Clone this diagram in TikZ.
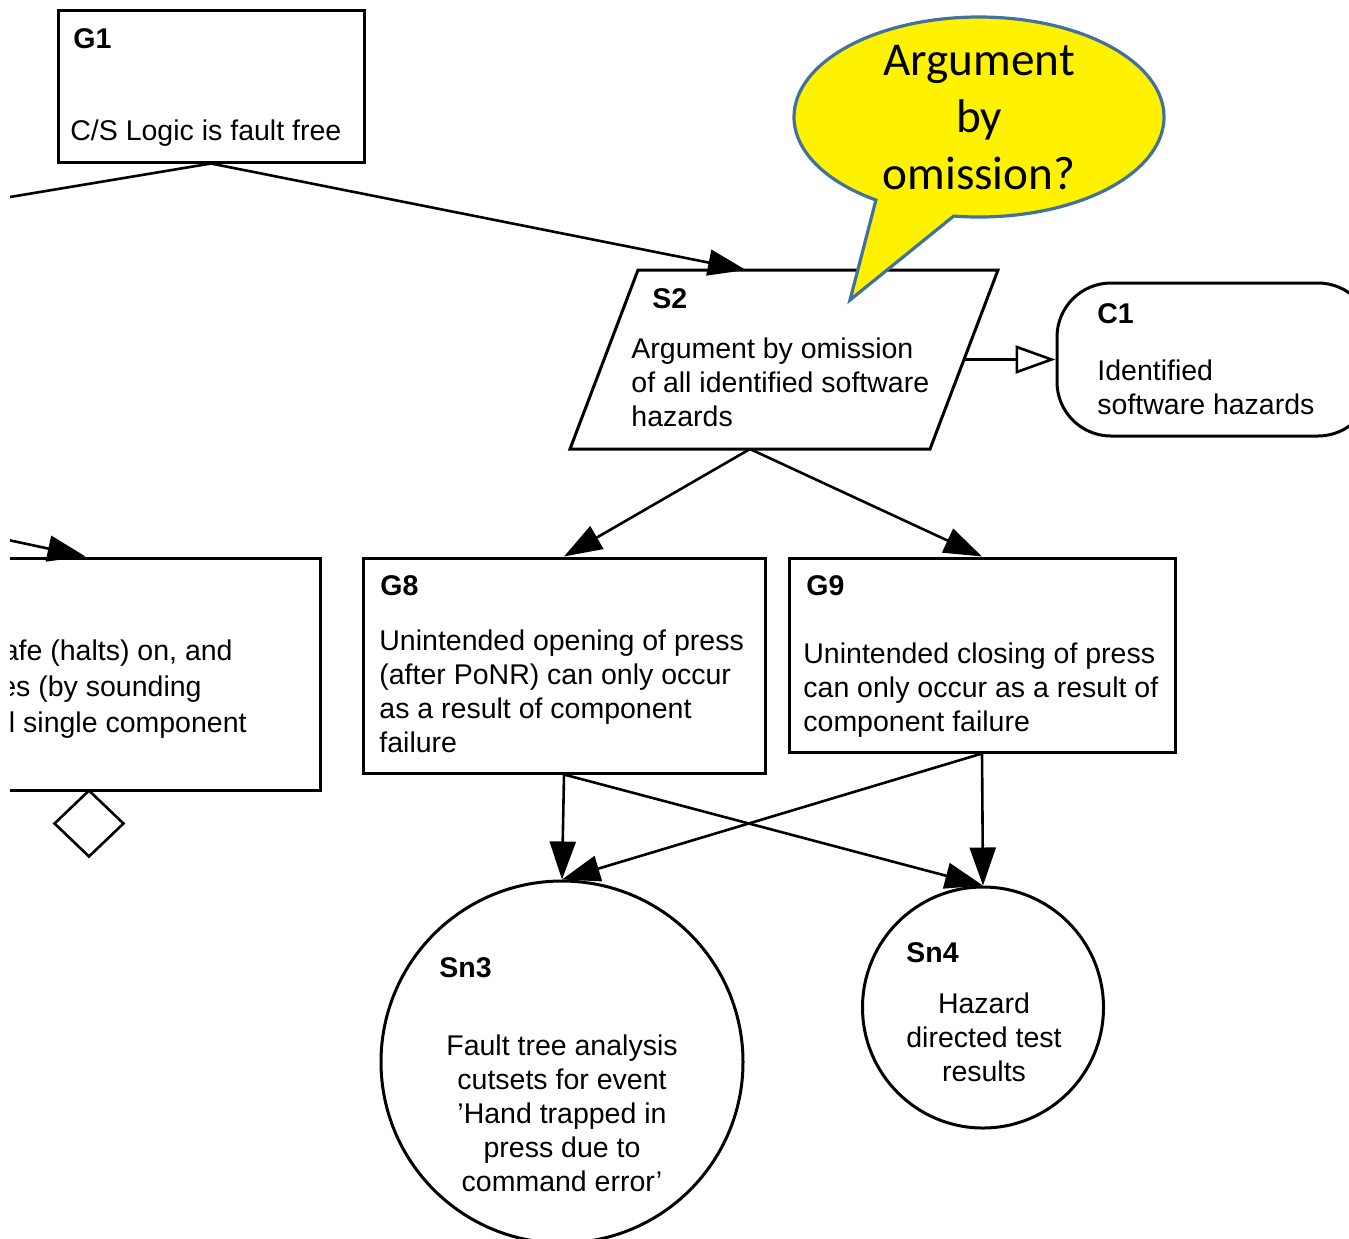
\documentclass[tikz,border=0pt]{standalone}
\usepackage{fontspec}
\setmainfont{Liberation Sans}
\newfontfamily\calibrifont{Carlito}
\usetikzlibrary{arrows.meta,shapes.geometric,shapes.callouts,calc}
\definecolor{bubbleblue}{HTML}{41719C}
\begin{document}
\begin{tikzpicture}[x=0.5pt,y=-0.5pt,
  box/.style={draw, line width=1.5pt, rectangle, inner sep=0pt},
  plainline/.style={line width=1.3pt},
  conn/.style={line width=1.3pt, -{Triangle[length=19pt,width=13pt]}},
  ctxconn/.style={line width=1.3pt, -{Triangle[open,length=20pt,width=14pt,fill=white]}},
  txt/.style={inner sep=0pt, font=\fontsize{14.25}{17}\selectfont, align=left},
  idtxt/.style={inner sep=0pt, font=\fontsize{14.25}{17}\selectfont\bfseries}
]
\useasboundingbox (0,0) rectangle (1349,1238);
\clip (10,0) rectangle (1349,1238);

% ---------- G1 ----------
\node[box, minimum width=153pt, minimum height=76pt] (G1) at (211,86) {};
\node[idtxt, anchor=base west] (G1id) at (73,48) {G1};
\node[txt, anchor=base west] (G1t) at (70,140) {C/S Logic is fault free};

% ---------- S2 (parallelogram) ----------
\coordinate (S2tl) at (638,270);
\coordinate (S2tr) at (998,270);
\coordinate (S2br) at (930,449);
\coordinate (S2bl) at (570,449);
\draw[line width=1.5pt] (S2tl) -- (S2tr) -- (S2br) -- (S2bl) -- cycle;
\coordinate (S2top) at ($(S2tl)!0.3!(S2tr)$);
\coordinate (S2bot) at ($(S2bl)!0.5!(S2br)$);
\coordinate (S2r) at (964.5,359.5);
\node[idtxt, anchor=base west] (S2id) at (652,308) {S2};
\node[txt, anchor=north west] (S2t) at (631,337.5) {Argument by omission\\of all identified software\\hazards};

% ---------- C1 ----------
\node[box, rounded corners=27pt, minimum width=157.5pt, minimum height=76.5pt] (C1) at (1214.5,359.5) {};
\node[idtxt, anchor=base west] (C1id) at (1097,323) {C1};
\node[txt, anchor=north west] (C1t) at (1097,359.5) {Identified\\software hazards};

% ---------- left goal (cut off) ----------
\node[box, minimum width=190pt, minimum height=116pt] (GL) at (130,674) {};
\node[txt, anchor=base east] (GLa) at (233,660) {afe (halts) on, and};
\node[txt, anchor=base east] (GLb) at (202,696) {es (by sounding};
\node[txt, anchor=base east] (GLc) at (247,732) {l single component};
\node[draw, diamond, aspect=1, inner sep=0pt, minimum width=35pt, minimum height=33.5pt, line width=1.3pt] (D1) at (89,823.5) {};
\coordinate (GLtop) at ($(GL.north west)!0.384!(GL.north east)$);
\coordinate (Lin) at (-20,534);
\coordinate (Lout) at (-20,202);

% ---------- G8, G9 ----------
\node[box, minimum width=201pt, minimum height=107.5pt] (G8) at (564,665.5) {};
\node[idtxt, anchor=base west] (G8id) at (380,595) {G8};
\node[txt, anchor=north west] (G8t) at (379,629.5) {Unintended opening of press\\(after PoNR) can only occur\\as a result of component\\failure};

\node[box, minimum width=193pt, minimum height=97pt] (G9) at (982,655) {};
\node[idtxt, anchor=base west] (G9id) at (806,595) {G9};
\node[txt, anchor=north west] (G9t) at (803,642.5) {Unintended closing of press\\can only occur as a result of\\component failure};

% ---------- Sn3, Sn4 ----------
\node[draw, circle, line width=1.5pt, inner sep=0pt, minimum size=181pt] (Sn3) at (562,1062) {};
\node[idtxt, anchor=base west] (Sn3id) at (439,977) {Sn3};
\node[txt, align=center, anchor=north] (Sn3t) at (562,1034.5) {Fault tree analysis\\cutsets for event\\'Hand trapped in\\press due to\\command error'};

\node[draw, circle, line width=1.5pt, inner sep=0pt, minimum size=120.5pt] (Sn4) at (983,1007.5) {};
\node[idtxt, anchor=base west] (Sn4id) at (906,962) {Sn4};
\node[txt, align=center, anchor=north] (Sn4t) at (984,992.5) {Hazard\\directed test\\results};

% ---------- connectors ----------
\draw[conn] (G1.south) -- (S2top);
\draw[plainline] (G1.south) -- (Lout);
\draw[conn] (Lin) -- (GLtop);
\draw[conn] (S2bot) -- (G8.north);
\draw[conn] (S2bot) -- (G9.north);
\draw[ctxconn] (S2r) -- (C1.west);
\draw[conn] (G8.south) -- (Sn3.north);
\draw[conn] (G8.south) -- (Sn4.north);
\draw[conn] (G9.south) -- (Sn3.north);
\draw[conn] (G9.south) -- (Sn4.north);

% ---------- callout ----------
\node[ellipse callout, draw=bubbleblue, line width=1.6pt, fill=yellow, inner sep=0pt,
      minimum width=185pt, minimum height=100pt,
      callout absolute pointer={(850,300)}, callout pointer arc=26] (bubble) at (979,117) {};
\node[inner sep=0pt, align=center, font=\calibrifont\fontsize{23.6}{28.5}\selectfont] (bubbletxt) at (979,118) {Argument\\by\\omission?};
\end{tikzpicture}
\end{document}
